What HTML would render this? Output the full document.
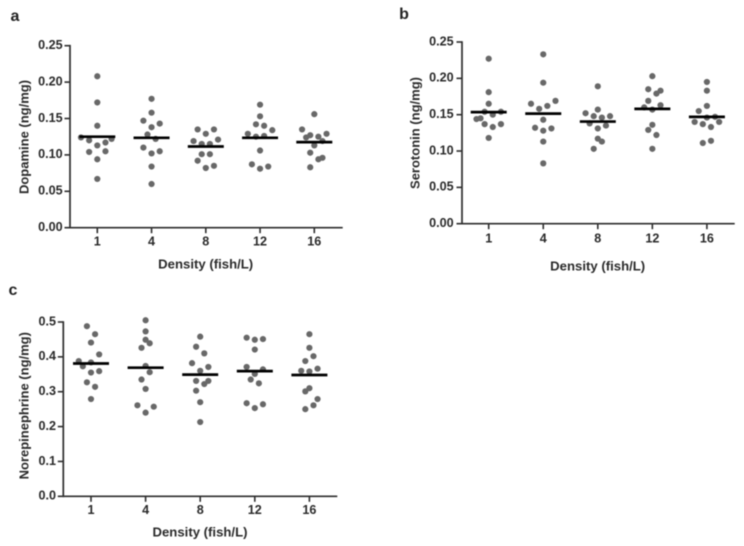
<!DOCTYPE html>
<html lang="en">
<head>
<meta charset="utf-8">
<title>Neurotransmitter levels by fish density</title>
<style>
html,body{margin:0;padding:0;background:#fff;}
body{width:744px;height:546px;overflow:hidden;}
svg{display:block;filter:blur(0.45px);}
text{font-family:"Liberation Sans",sans-serif;font-weight:bold;fill:#2a2a2a;font-size:12.6px;}
text.axis-title{font-size:13px;}
text.panel-letter{font-size:16px;fill:#222;}
</style>
</head>
<body>
<svg id="figure" width="744" height="546" viewBox="0 0 744 546" xmlns="http://www.w3.org/2000/svg"></svg>
<script>
var categories = ['1', '4', '8', '12', '16'];

var dopamineValues = [
  [.208,.172,.140,.124,.120,.113,.117,.122,.104,.105,.094,.067],
  [.177,.158,.147,.143,.138,.128,.122,.110,.102,.105,.084,.060],
  [.135,.135,.129,.121,.119,.115,.115,.101,.101,.092,.085,.082],
  [.169,.153,.142,.140,.134,.129,.125,.126,.106,.087,.084,.081],
  [.156,.135,.127,.129,.124,.125,.119,.113,.103,.094,.096,.083]
];
var dopamineSwarm = [
  [0,0,0,-4,-2,0,2,3.5,-2,2,0,0],
  [0,0,-2,2,0,-1,1,-2,0,2,0,0],
  [-2,2,0,3,-3,-1,1,-1,1,-2,2,0],
  [0,0,-1,1,3,-3,-1,1,0,-2,2,0],
  [0,-3,-1,3,-2,1,2,0,-1,1,2,-1]
];
var dopamineMeans = [.125,.1235,.1115,.1235,.1175];
var dopamineTicks = ['0.00','0.05','0.10','0.15','0.20','0.25'];

var serotoninValues = [
  [.227,.181,.165,.154,.154,.150,.144,.145,.137,.133,.137,.118],
  [.233,.194,.165,.169,.158,.162,.143,.132,.131,.128,.113,.083],
  [.189,.152,.157,.148,.146,.148,.138,.135,.131,.117,.113,.103],
  [.203,.185,.179,.183,.169,.160,.157,.163,.136,.129,.122,.103],
  [.195,.183,.162,.155,.146,.147,.140,.137,.140,.133,.111,.114]
];
var serotoninSwarm = [
  [0,0,0,-1,3,1,-3,-2,-1,1,3,0],
  [0,0,-3,3,-1,1,0,-2,2,0,0,0],
  [0,-3,0,-1,1,3,-2,2,0,0,1,-1],
  [0,-1,1,2,-1,-2,0,2,0,-1,1,0],
  [0,0,0,-2,0,2,-3,-1,3,1,-1,1]
];
var serotoninMeans = [.1535,.1515,.1405,.158,.147];
var serotoninTicks = ['0.00','0.05','0.10','0.15','0.20','0.25'];

var norepinephrineValues = [
  [.488,.465,.441,.407,.388,.384,.373,.359,.355,.327,.314,.279],
  [.505,.473,.449,.439,.426,.374,.356,.335,.308,.261,.257,.240],
  [.458,.429,.410,.382,.371,.360,.331,.331,.322,.303,.270,.213],
  [.455,.449,.451,.421,.371,.364,.351,.335,.324,.267,.264,.253],
  [.465,.426,.402,.388,.366,.360,.358,.310,.301,.279,.261,.250]
];
var norepinephrineSwarm = [
  [-1,1,0,2,-3,0,-2,2,0,-1,1,0],
  [0,0,0,1,-1,0,1,-1,0,-2,2,0],
  [0,-1,1,-2,2,0,-1,2,1,-1,0,0],
  [-2,0,2,0,-2,2,0,-1,1,-2,2,0],
  [0,0,1,-1,2,-2,0,0,-1,2,1,-1]
];
var norepinephrineMeans = [.381,.369,.349,.359,.348];
var norepinephrineTicks = ['0.0','0.1','0.2','0.3','0.4','0.5'];

var svg = document.getElementById('figure');
var NS = 'http://www.w3.org/2000/svg';
var AXIS = '#2e2e2e';
var DOT = '#686868';

function make(tag, attrs, text) {
  var el = document.createElementNS(NS, tag);
  for (var k in attrs) el.setAttribute(k, attrs[k]);
  if (text !== undefined) el.textContent = text;
  svg.appendChild(el);
  return el;
}

function drawPanel(p) {
  var yScale = function (v) {
    return p.y0 - (v / p.yMax) * (p.y0 - p.yTop);
  };
  var xScale = function (i) {
    return p.xFirst + i * p.xStep;
  };

  var letter = make('text', {x: p.letterX, y: p.letterY, 'class': 'panel-letter', 'text-anchor': 'middle', 'dominant-baseline': 'middle'}, p.letter);
  
  

  var yAxis = make('line', {x1: p.x0, y1: p.yTop - 0.8, x2: p.x0, y2: p.y0 + 0.8, stroke: AXIS, 'stroke-width': 1.7});
  
  

  var xAxis = make('line', {x1: p.x0 - 5.5, y1: p.y0, x2: p.xEnd, y2: p.y0, stroke: AXIS, 'stroke-width': 1.7});
  
  

  p.ticks.forEach(function (label) {
    var y = yScale(parseFloat(label));
    if (parseFloat(label) > 0) {
      var tick = make('line', {x1: p.x0 - 5.5, y1: y, x2: p.x0, y2: y, stroke: AXIS, 'stroke-width': 1.6});
      
      
    }
    var t = make('text', {x: p.tickEnd, y: y, 'text-anchor': 'end', 'dominant-baseline': 'middle'}, label);
    
    
  });

  categories.forEach(function (cat, i) {
    var x = xScale(i);
    var tick = make('line', {x1: x, y1: p.y0, x2: x, y2: p.y0 + 5.5, stroke: AXIS, 'stroke-width': 1.6});
    
    

    var t = make('text', {x: x, y: p.xTickY, 'text-anchor': 'middle', 'dominant-baseline': 'middle'}, cat);
    
    

    p.values[i].forEach(function (v, j) {
      var c = make('circle', {cx: x + p.swarm[i][j] * 4.08, cy: yScale(v), r: 3.1, fill: DOT});
      
      
    });

    var my = yScale(p.means[i]);
    var m = make('line', {x1: x - 18, y1: my, x2: x + 18, y2: my, stroke: '#000', 'stroke-width': 2.7});
    
    
  });

  var xt = make('text', {x: p.xTitleX, y: p.xTitleY, 'class': 'axis-title', 'text-anchor': 'middle', 'dominant-baseline': 'middle', textLength: 95, lengthAdjust: 'spacingAndGlyphs'}, 'Density (fish/L)');
  
  

  var yt = make('text', {x: 0, y: 0, 'class': 'axis-title', transform: 'translate(' + p.yTitleX + ' ' + p.yTitleY + ') rotate(-90)', 'text-anchor': 'middle', 'dominant-baseline': 'middle'}, p.yTitle);
  
  
}

drawPanel({
  key: 'dopamine', letter: 'a', letterX: 15, letterY: 17,
  values: dopamineValues, swarm: dopamineSwarm, means: dopamineMeans, ticks: dopamineTicks,
  yMax: 0.25, x0: 70, xEnd: 342.7, y0: 227.7, yTop: 45.7, xFirst: 97.3, xStep: 54.25,
  tickEnd: 62.7, xTickY: 242, xTitleX: 205.7, xTitleY: 265,
  yTitle: 'Dopamine (ng/mg)', yTitleX: 25, yTitleY: 137
});
drawPanel({
  key: 'serotonin', letter: 'b', letterX: 404, letterY: 15,
  values: serotoninValues, swarm: serotoninSwarm, means: serotoninMeans, ticks: serotoninTicks,
  yMax: 0.25, x0: 462, xEnd: 734.7, y0: 223.7, yTop: 42, xFirst: 488.7, xStep: 54.55,
  tickEnd: 453.7, xTickY: 239, xTitleX: 597.7, xTitleY: 267,
  yTitle: 'Serotonin (ng/mg)', yTitleX: 416, yTitleY: 133
});
drawPanel({
  key: 'norepinephrine', letter: 'c', letterX: 13, letterY: 290.7,
  values: norepinephrineValues, swarm: norepinephrineSwarm, means: norepinephrineMeans, ticks: norepinephrineTicks,
  yMax: 0.5, x0: 63.3, xEnd: 337.3, y0: 496.3, yTop: 322, xFirst: 91, xStep: 54.6,
  tickEnd: 56, xTickY: 510.7, xTitleX: 200, xTitleY: 533,
  yTitle: 'Norepinephrine (ng/mg)', yTitleX: 25, yTitleY: 405.7
});
</script>
</body>
</html>
